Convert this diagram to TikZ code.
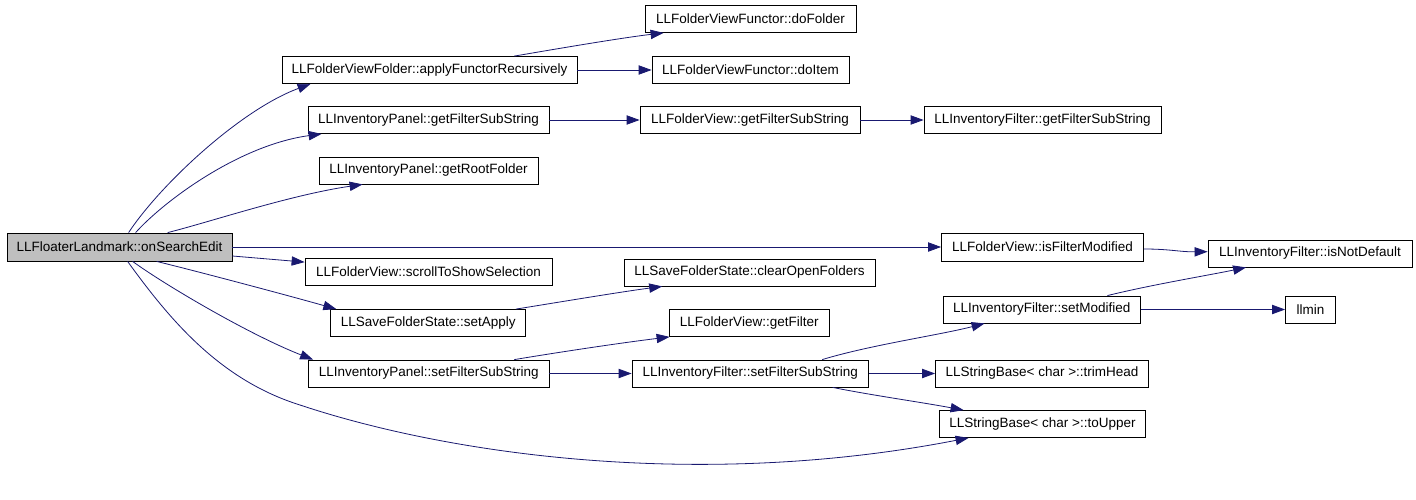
\documentclass[tikz,border=0pt]{standalone}
\usepackage{fontspec}
\setmainfont{Liberation Sans}
\usetikzlibrary{arrows.meta,calc}
\definecolor{edgeblue}{HTML}{191970}
\definecolor{maingray}{HTML}{BFBFBF}
\begin{document}
\begin{tikzpicture}[x=1pt,y=-1pt,
  fn/.style={draw=black,line width=0.8pt,fill=white,inner sep=0pt,minimum height=27pt,font=\fontsize{13.5}{16}\selectfont,text=black},
  call/.style={draw=edgeblue,line width=0.8pt,-{Triangle[length=13pt,width=9.3pt]}}]
\useasboundingbox (0,0) rectangle (1416,500);
\fill[white] (0,0) rectangle (1416,500);

\node[fn,fill=maingray,minimum width=225pt,minimum height=28pt] (main) at (119.5,247) {LLFloaterLandmark::onSearchEdit};
\node[fn,minimum width=295pt] (apply) at (429.5,70) {LLFolderViewFolder::applyFunctorRecursively};
\node[fn,minimum width=211pt] (dofolder) at (750.5,19) {LLFolderViewFunctor::doFolder};
\node[fn,minimum width=197pt] (doitem) at (750.5,70) {LLFolderViewFunctor::doItem};
\node[fn,minimum width=241pt] (pgfs) at (428.5,120) {LLInventoryPanel::getFilterSubString};
\node[fn,minimum width=220pt] (fvgfs) at (750,120) {LLFolderView::getFilterSubString};
\node[fn,minimum width=237pt] (ifgfs) at (1042.5,120) {LLInventoryFilter::getFilterSubString};
\node[fn,minimum width=219pt] (root) at (428.5,170.5) {LLInventoryPanel::getRootFolder};
\node[fn,minimum width=202pt,minimum height=28pt] (ismod) at (1042.5,247) {LLFolderView::isFilterModified};
\node[fn,minimum width=204pt] (notdef) at (1310,253.5) {LLInventoryFilter::isNotDefault};
\node[fn,minimum width=247pt] (scroll) at (428.5,272) {LLFolderView::scrollToShowSelection};
\node[fn,minimum width=251pt] (clear) at (749.5,272.5) {LLSaveFolderState::clearOpenFolders};
\node[fn,minimum width=195pt] (setapply) at (428.25,323) {LLSaveFolderState::setApply};
\node[fn,minimum width=160.5pt] (getfilter) at (749.25,323) {LLFolderView::getFilter};
\node[fn,minimum width=197.5pt] (setmod) at (1041.75,309.5) {LLInventoryFilter::setModified};
\node[fn,minimum width=50pt] (llmin) at (1310.5,309.5) {llmin};
\node[fn,minimum width=240.5pt] (psfs) at (428.75,373.5) {LLInventoryPanel::setFilterSubString};
\node[fn,minimum width=236.5pt] (ifsfs) at (750.25,373.5) {LLInventoryFilter::setFilterSubString};
\node[fn,minimum width=213pt] (trim) at (1042,373.5) {LLStringBase< char >::trimHead};
\node[fn,minimum width=206pt] (upper) at (1042.5,424) {LLStringBase< char >::toUpper};

\draw[call] ($(main.north west)+(122,0)$) .. controls (160,185) and (240,110) .. ($(apply.south west)+(29,0)$);
\draw[call] ($(main.north west)+(129,0)$) .. controls (165,200) and (240,145) .. ($(pgfs.south west)+(14,0)$);
\draw[call] ($(main.north west)+(161,0)$) .. controls (210,222) and (290,195) .. ($(root.south west)+(44,0)$);
\draw[call] (main.east) -- (ismod.west);
\draw[call] ($(main.east)+(0,9)$) -- ($(scroll.north west)+(0,4)$);
\draw[call] ($(main.south west)+(150,0)$) .. controls (200,272) and (290,296) .. ($(setapply.north west)+(6,0)$);
\draw[call] ($(main.south west)+(126,0)$) .. controls (165,285) and (250,335) .. ($(psfs.north west)+(5,0)$);
\draw[call] ($(main.south west)+(121,0)$) .. controls (170,320) and (220,380) .. (300,405) .. controls (450,455) and (700,490) .. ($(upper.south west)+(29.5,0)$);

\draw[call] ($(apply.north west)+(232.7,0)$) .. controls (550,50) and (620,38) .. ($(dofolder.south west)+(19,0)$);
\draw[call] (apply.east) -- (doitem.west);
\draw[call] (pgfs.east) -- (fvgfs.west);
\draw[call] (fvgfs.east) -- (ifgfs.west);
\draw[call] ($(setapply.north west)+(185.6,0)$) .. controls (560,302) and (620,292) .. ($(clear.south west)+(38.6,0)$);
\draw[call] ($(psfs.north west)+(206.2,0)$) .. controls (560,352) and (620,343) .. ($(getfilter.south west)+(1,0)$);
\draw[call] (psfs.east) -- (ifsfs.west);
\draw[call] ($(ismod.east)+(0,2)$) .. controls (1170,249) and (1180,252) .. ($(notdef.west)+(0,-1.8)$);
\draw[call] ($(setmod.north west)+(164.8,0)$) .. controls (1150,285) and (1210,275) .. ($(notdef.south west)+(38.5,0)$);
\draw[call] (setmod.east) -- (llmin.west);
\draw[call] ($(ifsfs.north west)+(190.6,0)$) .. controls (870,345) and (940,335) .. ($(setmod.south west)+(42,0)$);
\draw[call] (ifsfs.east) -- (trim.west);
\draw[call] ($(ifsfs.south west)+(201,0)$) .. controls (870,395) and (920,402) .. ($(upper.north west)+(24.5,0)$);
\end{tikzpicture}
\end{document}
